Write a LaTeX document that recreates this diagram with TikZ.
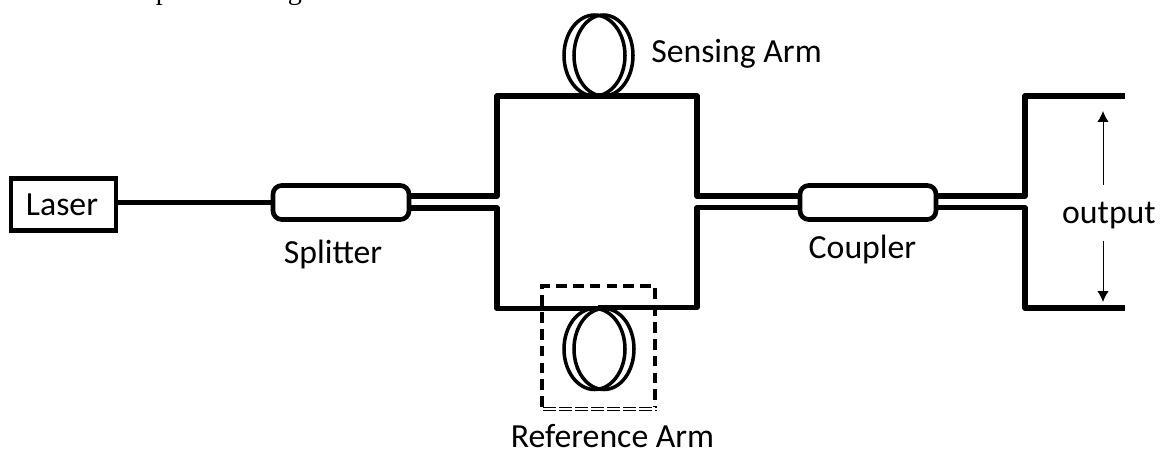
\documentclass[tikz,border=0pt]{standalone}
\usepackage{fontspec}
\setmainfont{Carlito}
\newfontfamily\captionfont{Liberation Serif}
\usetikzlibrary{arrows.meta}
\tikzset{
  wire/.style={line width=3.6pt,line join=round},
  comp/.style={draw,line width=3.3pt,rounded corners=0.22cm,outer sep=0pt,minimum width=3.4cm,minimum height=0.85cm},
  coil/.style={line width=2.5pt},
  label/.style={anchor=base,font=\fontsize{24}{28}\selectfont,inner sep=0pt},
  caption/.style={anchor=base,font=\captionfont\fontsize{20}{24}\selectfont,inner sep=0pt},
  arrowline/.style={line width=0.7pt,-{Latex[length=0.27cm,width=0.28cm]}},
  thindash/.style={line width=0.9pt,dash pattern=on 9pt off 2.4pt},
}
\begin{document}
\begin{tikzpicture}[x=0.025cm,y=-0.025cm]
\useasboundingbox (0,0) rectangle (1160,450);
\node[caption] (capP) at (163,-1) {p};
\node[caption] (capG) at (295,-1) {g};
\node[draw,line width=3.4pt,outer sep=0pt,minimum width=2.62cm,minimum height=1.3cm] (laser) at (63.5,204.5) {};
\node[label] (laserlabel) at (62,215) {Laser};
\node[comp] (splitter) at (341,202.5) {};
\node[comp] (coupler) at (868,202.5) {};
\coordinate (topL) at (497,96);
\coordinate (topR) at (697,96);
\coordinate (botL) at (497,308.5);
\coordinate (botR) at (697,307.5);
\coordinate (outT) at (1125,96);
\coordinate (outB) at (1125,308);
\coordinate (sp1) at (409,196);
\coordinate (sp2) at (409,208);
\coordinate (co1) at (800,196);
\coordinate (co2) at (800,207.5);
\coordinate (cr1) at (936,196);
\coordinate (cr2) at (936,207.5);
\draw[line width=4.2pt] (laser.east |- splitter.west) -- (splitter.west);
\draw[wire] (sp1) -| (topL) -- (topR) |- (co1);
\draw[wire] (sp2) -| (botL) -- (598,308.5);
\draw[wire] (co2) -| (botR) -- (598,307.5);
\draw[wire] (cr1) -| (1025,96) -- (outT);
\draw[wire] (cr2) -| (1025,308) -- (outB);
% fibre coils
\draw[coil] (594.5,55.5) ellipse (30.5 and 40.5);
\draw[coil] (603.5,55.5) ellipse (29.5 and 40.5);
\draw[coil] (594.5,349) ellipse (30.5 and 40.5);
\draw[coil] (604,349) ellipse (30 and 40.5);
% reference box
\draw[line width=2.9pt,dash pattern=on 7.6pt off 4.4pt] (542,407) -- (542,286) -- (655,286) -- (655,407);
\draw[thindash] (543,407.5) -- (657,407.5);
\draw[thindash] (543,410.5) -- (657,410.5);
\node[label] (splitterlabel) at (333,263) {Splitter};
\node[label] (couplerlabel) at (862.5,258) {Coupler};
\node[label] (sensing) at (736.5,62) {Sensing Arm};
\node[label] (reference) at (612.5,447) {Reference Arm};
\node[label] (output) at (1109,223) {output};
\draw[arrowline] (1103,185) -- (1103,111);
\draw[arrowline] (1103,241) -- (1103,302);
\end{tikzpicture}
\end{document}
